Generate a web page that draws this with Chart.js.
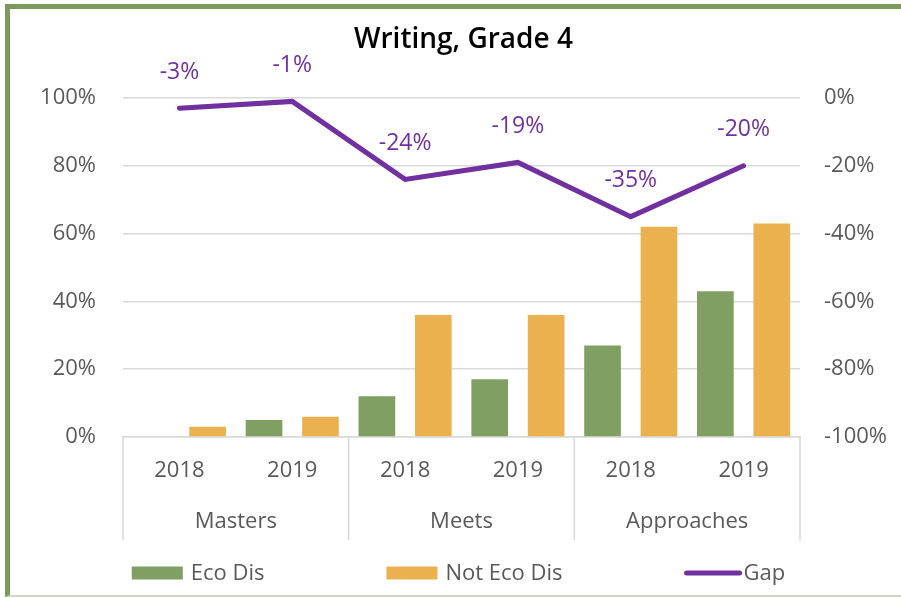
<!DOCTYPE html>
<html>
<head>
<meta charset="utf-8">
<script src="https://cdn.jsdelivr.net/npm/chart.js@4/dist/chart.umd.min.js"></script>
<style>
  html, body { margin: 0; padding: 0; background: #ffffff; }
  #wrap { position: relative; width: 901px; height: 598px; overflow: hidden; background: #ffffff; }
  #frame {
    position: absolute; left: 5px; top: 4px; right: -10px; bottom: 1px;
    border-left: 5px solid #7b9b5d; border-top: 5px solid #7b9b5d;
    border-bottom: 2px solid #cdd8c2; pointer-events: none;
  }
  canvas { position: absolute; left: 0; top: 0; }
</style>
</head>
<body>
<div id="wrap">
  <canvas id="chart" width="901" height="598"></canvas>
  <div id="frame"></div>
</div>
<script>
// Writing, Grade 4 — performance by economic status
const chartTitle = 'Writing, Grade 4';
const years = ['2018', '2019', '2018', '2019', '2018', '2019'];
const groups = ['Masters', 'Meets', 'Approaches'];
const ecoDis = [0, 5, 12, 17, 27, 43];
const notEcoDis = [3, 6, 36, 36, 62, 63];
const gap = [-3, -1, -24, -19, -35, -20];
const leftTicks = [0, 20, 40, 60, 80, 100];
const rightTicks = [-100, -80, -60, -40, -20, 0];

const FONT = "'Open Sans', 'Noto Sans', 'DejaVu Sans', sans-serif";
const GREEN = '#7f9f63';
const ORANGE = '#ebb14f';
const PURPLE = '#7030a0';
const GRID = '#d9d9d9';
const TEXT = '#595959';
const GROUP_AXIS_HEIGHT = 103;

// Title centred over the plot area
const plotTitle = {
  id: 'plotTitle',
  afterDraw(chart) {
    const ctx = chart.ctx;
    const area = chart.chartArea;
    ctx.save();
    ctx.fillStyle = '#000000';
    ctx.font = '600 28px ' + FONT;
    ctx.textAlign = 'center';
    ctx.textBaseline = 'middle';
    ctx.fillText(chartTitle, (area.left + area.right) / 2 + 2, 40);
    ctx.restore();
  }
};

// Two-level category axis: group separators and group names under the years
const groupAxis = {
  id: 'groupAxis',
  afterDraw(chart) {
    const x = chart.scales.x;
    const ctx = chart.ctx;
    const half = (x.getPixelForValue(1) - x.getPixelForValue(0)) / 2;
    const top = chart.chartArea.bottom;
    const bottom = top + GROUP_AXIS_HEIGHT;
    ctx.save();
    ctx.strokeStyle = GRID;
    ctx.lineWidth = 1.5;
    const per = years.length / groups.length;
    for (let g = 0; g <= groups.length; g++) {
      const idx = Math.min(g * per, years.length - 1);
      const px = g * per < years.length ? x.getPixelForValue(idx) - half : x.getPixelForValue(idx) + half;
      ctx.beginPath();
      ctx.moveTo(px, top);
      ctx.lineTo(px, bottom);
      ctx.stroke();
    }
    ctx.fillStyle = TEXT;
    ctx.font = '22px ' + FONT;
    ctx.textAlign = 'center';
    ctx.textBaseline = 'middle';
    groups.forEach((name, g) => {
      const a = x.getPixelForValue(g * per);
      const b = x.getPixelForValue(g * per + per - 1);
      ctx.fillText(name, (a + b) / 2, top + 85);
    });
    ctx.restore();
  }
};

// Value labels above the gap line
const gapLabels = {
  id: 'gapLabels',
  afterDatasetsDraw(chart) {
    const ctx = chart.ctx;
    const meta = chart.getDatasetMeta(2);
    ctx.save();
    ctx.fillStyle = PURPLE;
    ctx.font = '23px ' + FONT;
    ctx.textAlign = 'center';
    ctx.textBaseline = 'middle';
    meta.data.forEach((pt, i) => {
      ctx.fillText(gap[i] + '%', pt.x, pt.y - 36);
    });
    ctx.restore();
  }
};

// Legend row along the bottom, spread like the office-style legend
const bottomLegend = {
  id: 'bottomLegend',
  afterDraw(chart) {
    const ctx = chart.ctx;
    const area = chart.chartArea;
    const y = 573;
    const spacing = 122;
    ctx.save();
    ctx.font = '22px ' + FONT;
    ctx.textBaseline = 'middle';
    ctx.textAlign = 'left';
    const items = chart.data.datasets.map(ds => {
      const isLine = ds.type === 'line';
      const sw = isLine ? 57 : 51;
      const gapTxt = isLine ? 2 : 8;
      return { ds, isLine, sw, gapTxt, w: sw + gapTxt + ctx.measureText(ds.label).width };
    });
    const total = items.reduce((s, it) => s + it.w, 0) + spacing * (items.length - 1);
    let x = (area.left + area.right) / 2 - total / 2 - 3;
    items.forEach(it => {
      if (it.isLine) {
        ctx.strokeStyle = it.ds.borderColor;
        ctx.lineWidth = 5;
        ctx.lineCap = 'round';
        ctx.beginPath();
        ctx.moveTo(x + 2, y);
        ctx.lineTo(x + it.sw - 2, y);
        ctx.stroke();
      } else {
        ctx.fillStyle = it.ds.backgroundColor;
        ctx.fillRect(x, y - 6.5, it.sw, 13);
      }
      ctx.fillStyle = TEXT;
      ctx.fillText(it.ds.label, x + it.sw + it.gapTxt, y + 1);
      x += it.w + spacing;
    });
    ctx.restore();
  }
};

new Chart(document.getElementById('chart'), {
  type: 'bar',
  data: {
    labels: years,
    datasets: [
      {
        label: 'Eco Dis',
        data: ecoDis,
        backgroundColor: GREEN,
        yAxisID: 'y',
        order: 1,
        categoryPercentage: 1.0,
        barPercentage: 0.65
      },
      {
        label: 'Not Eco Dis',
        data: notEcoDis,
        backgroundColor: ORANGE,
        yAxisID: 'y',
        order: 1,
        categoryPercentage: 1.0,
        barPercentage: 0.65
      },
      {
        type: 'line',
        label: 'Gap',
        data: gap,
        borderColor: PURPLE,
        backgroundColor: PURPLE,
        borderWidth: 5,
        borderCapStyle: 'round',
        borderJoinStyle: 'miter',
        pointRadius: 0,
        tension: 0,
        yAxisID: 'y2',
        order: 0
      }
    ]
  },
  options: {
    responsive: false,
    devicePixelRatio: 1,
    animation: false,
    layout: { padding: { left: 0, right: 0, top: 98, bottom: 58 } },
    plugins: {
      legend: { display: false },
      tooltip: { enabled: false },
      title: { display: false }
    },
    scales: {
      x: {
        offset: true,
        grid: { display: false, drawTicks: false },
        border: { display: true, color: GRID, width: 1.5 },
        ticks: { color: TEXT, font: { family: FONT, size: 22 }, padding: 21, maxRotation: 0 },
        afterFit(scale) { scale.height = GROUP_AXIS_HEIGHT; }
      },
      y: {
        position: 'left',
        min: 0,
        max: 100,
        afterBuildTicks(scale) { scale.ticks = leftTicks.map(v => ({ value: v })); },
        grid: { color: GRID, lineWidth: 1.5, drawTicks: false },
        border: { display: false },
        ticks: { color: TEXT, font: { family: FONT, size: 22 }, padding: 27, callback: v => v + '%' },
        afterFit(scale) { scale.width = 123; }
      },
      y2: {
        position: 'right',
        min: -100,
        max: 0,
        afterBuildTicks(scale) { scale.ticks = rightTicks.map(v => ({ value: v })); },
        grid: { display: false, drawTicks: false },
        border: { display: false },
        ticks: { color: TEXT, font: { family: FONT, size: 22 }, padding: 24, callback: v => v + '%' },
        afterFit(scale) { scale.width = 101; }
      }
    }
  },
  plugins: [plotTitle, groupAxis, gapLabels, bottomLegend]
});
</script>
</body>
</html>
